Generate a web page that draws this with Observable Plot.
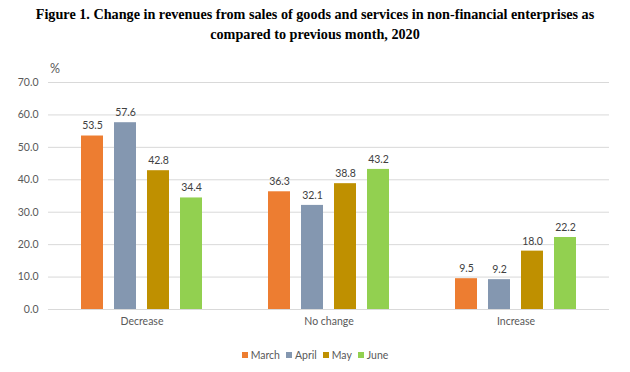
<!DOCTYPE html>
<html>
<head>
<meta charset="utf-8">
<script src="https://cdn.jsdelivr.net/npm/d3@7"></script>
<script src="https://cdn.jsdelivr.net/npm/@observablehq/plot@0.6"></script>
<style>
  html, body { margin: 0; padding: 0; background: #fff; }
  #wrap { position: relative; width: 630px; height: 372px; overflow: hidden; }
  #title { position: absolute; left: 0; top: 4px; width: 630px; text-align: center;
    font-family: "Liberation Serif", "Times New Roman", serif; font-weight: bold; font-size: 14.2px; line-height: 18px; color: #000;
    transform: scaleY(1.1); transform-origin: top center; }
  #unit { position: absolute; left: 50px; top: 61px; font-family: Lato, sans-serif; font-size: 12.5px; color: #595959; }
  #chart { position: absolute; left: 0; top: 50px; }
  #legend { position: absolute; left: 0; top: 348px; width: 630px; display: flex; justify-content: center;
    font-family: Lato, sans-serif; font-size: 10.5px; color: #595959; }
  .item { display: flex; align-items: center; margin: 0 3px; line-height: 14px; }
  .sw { width: 6px; height: 6px; margin-right: 3px; }
</style>
</head>
<body>
<div id="wrap">
  <div id="title">Figure 1. Change in revenues from sales of goods and services in non-financial enterprises as<br>compared to previous month, 2020</div>
  <div id="unit">%</div>
  <div id="chart"></div>
  <div id="legend"></div>
</div>
<script>
const categories = ["Decrease", "No change", "Increase"];
const months = ["March", "April", "May", "June"];
const march = [53.5, 36.3, 9.5];
const april = [57.6, 32.1, 9.2];
const may = [42.8, 38.8, 18.0];
const june = [34.4, 43.2, 22.2];
const colors = ["#ED7D31", "#8497B0", "#BF9000", "#92D050"];
const yTicks = [0, 10, 20, 30, 40, 50, 60, 70];

const series = [march, april, may, june];
const data = categories.flatMap((c, i) => months.map((m, j) => ({category: c, month: m, value: series[j][i]})));

const chart = Plot.plot({
  width: 630,
  height: 289,
  marginLeft: 48,
  marginRight: 21,
  marginTop: 32,
  marginBottom: 30,
  style: {fontFamily: "Lato, sans-serif", fontSize: "10.5px", color: "#595959", background: "transparent"},
  fx: {domain: categories, padding: 0, label: null},
  x: {domain: months, paddingInner: 1/3, paddingOuter: 1, axis: null},
  y: {domain: [0, 70], label: null},
  color: {domain: months, range: colors},
  marks: [
    Plot.ruleY(yTicks, {stroke: "#d9d9d9", strokeWidth: 1}),
    Plot.barY(data, {fx: "category", x: "month", y: "value", fill: "month"}),
    Plot.text(data, {fx: "category", x: "month", y: "value", text: d => d.value.toFixed(1), dy: -10, fill: "#404040", fontSize: 10.5}),
    Plot.axisY(yTicks, {tickSize: 0, tickPadding: 10, tickFormat: d => d.toFixed(1), label: null, fill: "#595959"}),
    Plot.axisFx({anchor: "bottom", tickSize: 0, tickPadding: 8, label: null, fill: "#595959"})
  ]
});
document.getElementById("chart").appendChild(chart);

const color = chart.scale("color");
const legend = document.getElementById("legend");
for (const m of months) {
  const item = document.createElement("div");
  item.className = "item";
  const sw = document.createElement("span");
  sw.className = "sw";
  sw.style.background = color.apply(m);
  const t = document.createElement("span");
  t.textContent = m;
  item.appendChild(sw);
  item.appendChild(t);
  legend.appendChild(item);
}
</script>
</body>
</html>
